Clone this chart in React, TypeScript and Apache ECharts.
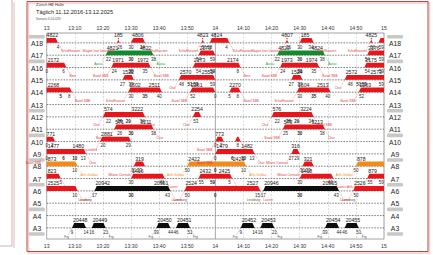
import React, { useEffect, useRef } from 'react';
import * as echarts from 'echarts';

const tracks = ['A18', 'A17', 'A16', 'A15', 'A14', 'A13', 'A12', 'A11', 'A10', 'A9', 'A8', 'A7', 'A6', 'A5', 'A4', 'A3'];
const tickLabels = ['13', '13:10', '13:20', '13:30', '13:40', '13:50', '14', '14:10', '14:20', '14:30', '14:40', '14:50', '15'];
const platformMarks = [-0.5, 1.5, 5.5, 7.5, 9.5, 11.5, 13.5, 15.5];
const titleLines = ['Zürich HB Halle', 'Täglich 11.12.2016-13.12.2025', 'Szenario X-04-0292'];

type Train = [string, number, number, string[], number[], string, string];

// [track, start (min after 13:00), end, train numbers, minute marks, destination left, destination right]
const redTrains: Train[] = [
  ['A18', -1, 4, ['4822'], [4], '', 'Schaffhausen'],
  ['A18', 25, 26, ['185'], [26], 'Wagen (nur Unterhalt)', ''],
  ['A18', 30, 35, ['4806'], [30, 34], '', 'Schaffhausen'],
  ['A18', 55, 56, ['4823'], [56], 'Schaffhausen', ''],
  ['A18', 58, 65, ['4824'], [58, 64], '', 'Schaffhausen'],
  ['A18', 85, 86, ['4807'], [86], 'Wagen (nur Unterhalt)', ''],
  ['A18', 90, 95, ['185'], [90, 94], '', 'Schaffhausen'],
  ['A18', 115, 116, ['4825'], [116], 'Schaffhausen', ''],
  ['A18', 118, 121, [], [119], '', ''],
  ['A17', 54, 60, ['2170'], [54, 59], '', ''],
  ['A17', 114, 121, ['2176'], [114, 119], '', ''],
  ['A16', -1, 7, ['2172'], [0, 6], '', 'Bern'],
  ['A16', 23, 37, ['1971', '1972'], [24, 30, 35], 'Basel SBB', 'Basel SBB'],
  ['A16', 52, 69, ['2173', '2174'], [54, 59, 68], '', 'Bern'],
  ['A16', 83, 97, ['1973', '1974'], [84, 90, 95], 'Basel SBB', 'Basel SBB'],
  ['A16', 113, 121, ['2175'], [114, 119], '', ''],
  ['A15', 27, 31, ['1522'], [27, 30], '', ''],
  ['A15', 47, 60, ['2570', '2551'], [48, 51, 53, 59], 'Chur', ''],
  ['A15', 87, 91, ['1524'], [87, 90], '', ''],
  ['A15', 106, 121, ['2572', '2573'], [108, 111, 113, 119], 'Chur', ''],
  ['A14', -1, 9, ['2268'], [5, 8], '', 'Basel SBB'],
  ['A14', 29, 41, ['1502', '2511'], [30, 35, 40], 'Schaffhausen', ''],
  ['A14', 51, 60, ['2261'], [52, 60], 'Basel SBB', ''],
  ['A14', 65, 69, ['2270'], [65, 68], '', 'Basel SBB'],
  ['A14', 89, 101, ['1504', '2513'], [90, 95, 100], 'Schaffhausen', ''],
  ['A14', 111, 121, ['2263'], [112], 'Basel SBB', ''],
  ['A12', 20, 35, ['574', '3222'], [22, 26, 29, 34], 'Chur', 'Chur'],
  ['A12', 52, 55, ['2254'], [53], 'Chur', ''],
  ['A12', 80, 95, ['576', '3224'], [82, 86, 89, 94], 'Chur', 'Basel SBB'],
  ['A11', 24, 38, ['571', '3211'], [26, 30, 38], 'Basel SBB', 'Chur'],
  ['A11', 84, 99, ['573', '3213'], [85, 90, 98], 'Basel SBB', 'Chur'],
  ['A10', -1, 3, ['771'], [0, 2], '', ''],
  ['A10', 19, 30, ['2881'], [20, 29], 'Frauenfeld', ''],
  ['A10', 60, 63, ['773'], [60, 62], 'Basel SBB', ''],
  ['A10', 67, 69, [], [68], '', 'Chur'],
  ['A9', -1, 14, ['1477', '1480'], [0, 6, 10, 13], 'Basel SBB', 'Chur'],
  ['A9', 60, 74, ['1479', '1482'], [60, 66, 70, 73], 'Basel SBB', 'Chur'],
  ['A9', 87, 90, ['316'], [87, 89], 'Milano Centrale', ''],
  ['A8', 31, 35, ['319'], [31, 33], 'Milano Centrale', ''],
  ['A8', 91, 95, ['321'], [91, 93], 'Milano Centrale', ''],
  ['A7', -1, 5, ['823'], [5], '', 'Luzern'],
  ['A7', 30, 42, ['1416'], [30, 41], '', 'Luzern'],
  ['A7', 54, 66, ['2432', '2425'], [55, 59, 65], 'Luzern', 'Luzern'],
  ['A7', 90, 102, ['1418'], [90, 101], '', 'Luzern'],
  ['A7', 114, 121, ['879'], [115, 119], 'Arth-Goldau', ''],
  ['A6', -1, 11, ['2525'], [10], '', 'Luzern'],
  ['A6', 49, 76, ['2524', '2527'], [50, 60, 75], 'Luzern', 'Luzern'],
  ['A6', 109, 121, ['2526'], [110], 'Luzern', ''],
];

const greenTrains: Train[] = [
  ['A17', 21, 38, ['4821', '4822'], [22, 30, 38], 'Aarau', 'Aarau'],
  ['A17', 82, 99, ['4823', '4824'], [82, 90, 98], 'Aarau', 'Aarau'],
];

const orangeTrains: Train[] = [
  ['A8', -1, 11, ['873'], [10], '', 'Arth-Goldau'],
  ['A8', 50, 71, ['2422', '2423'], [50, 60, 70], 'Arth-Goldau', 'Arth-Goldau'],
  ['A8', 110, 121, ['878'], [110], 'Arth-Goldau', ''],
];

const blackTrains: Train[] = [
  ['A6', 17, 44, ['20942', '20951'], [17, 30, 43], 'Lenzburg', 'Lenzburg'],
  ['A6', 77, 104, ['20946', '20955'], [77, 90, 103], 'Lenzburg', 'Lenzburg'],
  ['A3', 9, 14, ['20448'], [9, 14], 'Frg', ''],
  ['A3', 16, 21, ['20449'], [16, 21], '', 'Frg'],
  ['A3', 39, 44, ['20450'], [39, 44], 'Frg', ''],
  ['A3', 46, 51, ['20451'], [46, 51], '', 'Frg'],
  ['A3', 69, 74, ['20452'], [69, 74], 'Frg', ''],
  ['A3', 76, 81, ['20453'], [76, 81], '', 'Frg'],
  ['A3', 99, 104, ['20454'], [99, 104], 'Frg', ''],
  ['A3', 106, 111, ['20455'], [106, 111], '', 'Frg'],
];

const FONT = 'Arial, "Liberation Sans", sans-serif';

function trainSeries(list: Train[], color: string, destColor: string, name: string) {
  return {
    type: 'custom',
    name,
    clip: false,
    silent: true,
    data: list.map((t) => [t[1], tracks.indexOf(t[0]), t[2]]),
    encode: { x: [0, 2], y: 1 },
    renderItem: (params: any, api: any) => {
      const [, start, end, nums, mins, dl, dr] = list[params.dataIndex];
      const idx = api.value(1);
      const a = api.coord([start, idx]);
      const b = api.coord([end, idx]);
      const cs = params.coordSys;
      const L = cs.x;
      const R = cs.x + cs.width;
      const y = a[1];
      const x0 = Math.max(a[0], L);
      const x1 = Math.min(b[0], R);
      const s0 = a[0] >= L ? 2.2 : 0;
      const s1 = b[0] <= R ? 2.2 : 0;
      const h = 4.8;
      const children: any[] = [];
      children.push({
        type: 'polygon',
        shape: { points: [[x0, y], [x0 + s0, y - h], [x1 - s1, y - h], [x1, y]] },
        style: { fill: color },
      });
      const w = x1 - x0;
      nums.forEach((n, k) => {
        let tx = x0 + 1;
        let align = 'left';
        if (nums.length === 1) {
          if (w < 14) {
            tx = (x0 + x1) / 2;
            align = 'center';
          }
        } else if (k === 1) {
          tx = x1 - 2;
          align = 'right';
        }
        children.push({
          type: 'text',
          x: tx,
          y: y - 7.6,
          style: { text: n, fontSize: 5.2, fontFamily: FONT, fill: '#1a1a1a', align, verticalAlign: 'middle' },
        });
      });
      mins.forEach((m) => {
        const p = api.coord([m, idx]);
        const inner = m > start + 2 && m < end - 2;
        children.push({
          type: 'text',
          x: p[0],
          y: y + 4.2,
          style: {
            text: String(((m % 60) + 60) % 60),
            fontSize: 4.5,
            fontWeight: inner ? 'bold' : 'normal',
            fontFamily: FONT,
            fill: '#2a2a2a',
            align: 'center',
            verticalAlign: 'middle',
          },
        });
      });
      if (dr) {
        children.push({
          type: 'line',
          shape: { x1: b[0], y1: y, x2: b[0] + 4, y2: y + 7 },
          style: { stroke: destColor, lineWidth: 0.4, lineDash: [1, 0.8] },
        });
        children.push({
          type: 'text',
          x: b[0] + 3,
          y: y + 8.4,
          style: { text: dr, fontSize: 3.2, fontFamily: FONT, fill: destColor, align: 'left', verticalAlign: 'middle' },
        });
      }
      if (dl) {
        children.push({
          type: 'line',
          shape: { x1: a[0], y1: y, x2: a[0] - 4, y2: y + 7 },
          style: { stroke: destColor, lineWidth: 0.4, lineDash: [1, 0.8] },
        });
        children.push({
          type: 'text',
          x: a[0] - 3,
          y: y + 8.4,
          style: { text: dl, fontSize: 3.2, fontFamily: FONT, fill: destColor, align: 'right', verticalAlign: 'middle' },
        });
      }
      return { type: 'group', children };
    },
  };
}

export default function App() {
  const ref = useRef<HTMLDivElement>(null);
  useEffect(() => {
    if (!ref.current) return;
    const chart = echarts.init(ref.current, undefined, { renderer: 'svg' });
    const axisLabel = {
      fontSize: 5.2,
      color: '#333',
      fontFamily: FONT,
      formatter: (v: number) => tickLabels[Math.round(v / 10)] ?? '',
    };
    const option: any = {
      animation: false,
      backgroundColor: '#ffffff',
      grid: {
        left: 46.7,
        right: 49,
        top: 33,
        bottom: 16,
        show: true,
        borderColor: '#8c8c8c',
        borderWidth: 0.8,
        backgroundColor: 'transparent',
      },
      xAxis: [
        {
          type: 'value',
          position: 'top',
          min: 0,
          max: 120,
          interval: 10,
          axisLine: { show: false },
          axisTick: { show: false },
          axisLabel: { ...axisLabel, margin: 3 },
          splitLine: { show: true, lineStyle: { color: '#c4c4c4', width: 0.6, type: [2, 1.5] } },
        },
        {
          type: 'value',
          position: 'bottom',
          min: 0,
          max: 120,
          interval: 10,
          axisLine: { show: false },
          axisTick: { show: false },
          axisLabel: { ...axisLabel, margin: 4 },
          splitLine: { show: false },
        },
      ],
      yAxis: {
        type: 'value',
        inverse: true,
        min: -0.8,
        max: 15.9,
        show: false,
        splitLine: { show: false },
      },
      graphic: [
        { type: 'line', shape: { x1: 12, y1: 0, x2: 12, y2: 246 }, style: { stroke: '#a9a9a9', lineWidth: 0.8 } },
        { type: 'line', shape: { x1: 0, y1: 246, x2: 12, y2: 246 }, style: { stroke: '#a9a9a9', lineWidth: 0.8 } },
        { type: 'line', shape: { x1: 14, y1: 2, x2: 14, y2: 248 }, style: { stroke: '#f0d0d0', lineWidth: 1.5 } },
        { type: 'rect', shape: { x: 28.5, y: 3, width: 401, height: 250 }, style: { fill: 'none', stroke: '#efcfcf', lineWidth: 1.5 } },
        { type: 'rect', shape: { x: 27, y: 1.5, width: 401, height: 250 }, style: { fill: 'none', stroke: '#b4493f', lineWidth: 1 } },
        {
          type: 'text',
          x: 36,
          y: 4.8,
          style: { text: titleLines[0], fontSize: 4, fontFamily: FONT, fill: '#333', verticalAlign: 'middle' },
        },
        {
          type: 'text',
          x: 36,
          y: 12,
          style: { text: titleLines[1], fontSize: 5.6, fontFamily: FONT, fill: '#222', verticalAlign: 'middle' },
        },
        {
          type: 'text',
          x: 36,
          y: 18.5,
          style: { text: titleLines[2], fontSize: 2.8, fontFamily: FONT, fill: '#555', verticalAlign: 'middle' },
        },
      ],
      series: [
        {
          type: 'custom',
          name: 'tracks',
          clip: false,
          silent: true,
          data: tracks.map((_, i) => [0, i]),
          renderItem: (params: any, api: any) => {
            const i = api.value(1);
            const a = api.coord([0, i]);
            const b = api.coord([120, i]);
            return {
              type: 'group',
              children: [
                {
                  type: 'line',
                  shape: { x1: a[0], y1: a[1], x2: b[0], y2: b[1] },
                  style: { stroke: '#4a4a4a', lineWidth: 0.7, lineDash: [1.6, 1.2] },
                },
                {
                  type: 'text',
                  x: a[0] - 9.7,
                  y: a[1] + 0.5,
                  style: { text: tracks[params.dataIndex], fontSize: 6.8, fontFamily: FONT, fill: '#1e1e1e', align: 'center', verticalAlign: 'middle' },
                },
                {
                  type: 'text',
                  x: b[0] + 11,
                  y: b[1] + 0.5,
                  style: { text: tracks[params.dataIndex], fontSize: 6.8, fontFamily: FONT, fill: '#1e1e1e', align: 'center', verticalAlign: 'middle' },
                },
              ],
            };
          },
        },
        {
          type: 'custom',
          name: 'platforms',
          clip: false,
          silent: true,
          data: platformMarks.map((p) => [0, p]),
          renderItem: (params: any, api: any) => {
            const a = api.coord([0, api.value(1)]);
            const b = api.coord([120, api.value(1)]);
            return {
              type: 'group',
              children: [
                { type: 'rect', shape: { x: a[0] - 18, y: a[1] - 1.8, width: 16, height: 3.6, r: 1 }, style: { fill: '#c8c8c8' } },
                { type: 'rect', shape: { x: b[0] + 3, y: b[1] - 1.8, width: 16, height: 3.6, r: 1 }, style: { fill: '#c8c8c8' } },
              ],
            };
          },
        },
        {
          type: 'custom',
          name: 'hour',
          clip: false,
          silent: true,
          data: [[60, 0]],
          renderItem: (params: any, api: any) => {
            const cs = params.coordSys;
            const p = api.coord([api.value(0), 0]);
            return {
              type: 'line',
              shape: { x1: p[0], y1: cs.y, x2: p[0], y2: cs.y + cs.height },
              style: { stroke: '#9a9a9a', lineWidth: 0.8 },
            };
          },
        },
        trainSeries(greenTrains, '#138a2e', '#2b9a3e', 'green'),
        trainSeries(orangeTrains, '#f28a1c', '#f08a24', 'orange'),
        trainSeries(blackTrains, '#0d0d0d', '#555555', 'black'),
        trainSeries(redTrains, '#e8151b', '#e53a3a', 'red'),
      ],
    };
    chart.setOption(option);
    return () => chart.dispose();
  }, []);
  return <div ref={ref} style={{ position: 'fixed', left: 0, top: 0, width: 433, height: 255, background: '#fff' }} />;
}
